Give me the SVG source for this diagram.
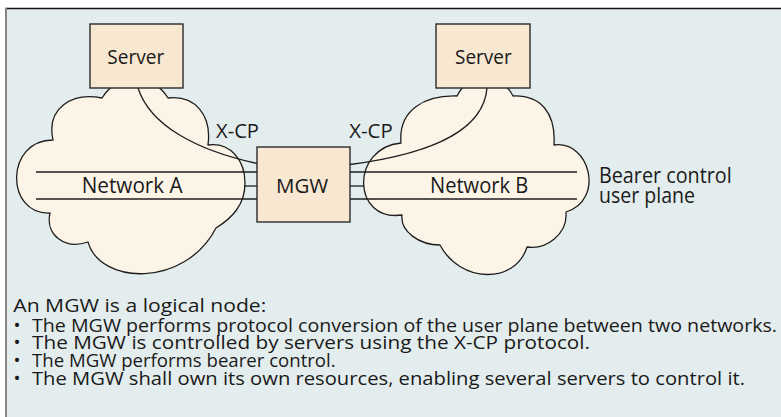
<svg xmlns="http://www.w3.org/2000/svg" width="781" height="417" viewBox="0 0 781 417">
  <style>
    .panel { fill: #e4eded; }
    .cloud { fill: #fdf4e8; stroke: #1e1e1e; stroke-width: 1.3; stroke-linejoin: round; }
    .box { fill: #f8e7d1; stroke: #2a2a2a; stroke-width: 1.4; }
    .link { fill: none; stroke: #1e1e1e; stroke-width: 1.3; }
    text { font-family: "Open Sans", "Liberation Sans", sans-serif; fill: #1a1a1a; }
    .lbl { font-size: 20px; }
    .net { font-size: 21.5px; }
    .body { font-size: 18.6px; }
  </style>

  <!-- panel background with top rule and left edge -->
  <rect class="panel" x="6" y="8" width="775" height="409"/>
  <line x1="5" y1="8.5" x2="781" y2="8.5" stroke="#111" stroke-width="1.5"/>
  <line x1="6" y1="8" x2="6" y2="417" stroke="#858585" stroke-width="2"/>

  <!-- Network A cloud -->
  <g id="network-a">
    <path class="cloud" d="M102,98 C118,72 152,72 168,98 C195,95 212,115 208,145 C230,142 245,160 245,183 C245,205 232,218 216,228 C185,288 100,285 88,242 C65,250 45,235 50,213 C5,215 5,140 53,140 C46,108 72,92 102,98 Z"/>
    <text class="net" x="81.7" y="192.7" textLength="101" lengthAdjust="spacingAndGlyphs">Network A</text>
  </g>

  <!-- Network B cloud -->
  <g id="network-b">
    <path class="cloud" d="M457,96 C470,70 500,70 513,96 C540,95 556,112 554,145 C590,140 605,200 566,212 C568,235 545,250 527,247 C515,285 460,283 440,245 C420,245 400,232 402,215 C352,222 350,148 401,143 C398,110 425,95 457,96 Z"/>
    <text class="net" x="430" y="192.7" textLength="98.3" lengthAdjust="spacingAndGlyphs">Network B</text>
  </g>

  <!-- bearer lines and X-CP control links -->
  <g id="connectors">
    <line class="link" x1="36" y1="172" x2="577" y2="172"/>
    <line class="link" x1="36" y1="199" x2="577" y2="199"/>
    <line class="link" x1="244" y1="186" x2="257" y2="186"/>
    <line class="link" x1="350" y1="186" x2="364" y2="186"/>
    <path class="link" d="M138,88 C150,125 195,150 257,163.5"/>
    <path class="link" d="M487,88 C484,125 445,152 350,164.5"/>
  </g>

  <g id="server-a">
    <rect class="box" x="90" y="24" width="93" height="64"/>
    <text class="lbl" x="107.3" y="64" textLength="57" lengthAdjust="spacingAndGlyphs">Server</text>
  </g>

  <g id="server-b">
    <rect class="box" x="436" y="24" width="94" height="64"/>
    <text class="lbl" x="455" y="64" textLength="56.7" lengthAdjust="spacingAndGlyphs">Server</text>
  </g>

  <g id="mgw">
    <rect class="box" x="257" y="147" width="93" height="75"/>
    <text class="lbl" x="276" y="192.7" textLength="52.3" lengthAdjust="spacingAndGlyphs">MGW</text>
  </g>

  <g id="xcp-labels">
    <text class="lbl" x="216" y="138.3" textLength="43" lengthAdjust="spacingAndGlyphs">X-CP</text>
    <text class="lbl" x="349.3" y="138.3" textLength="43.4" lengthAdjust="spacingAndGlyphs">X-CP</text>
  </g>

  <g id="plane-label">
    <text class="net" x="599" y="182.7" textLength="132.7" lengthAdjust="spacingAndGlyphs">Bearer control</text>
    <text class="net" x="599" y="202.5" textLength="96" lengthAdjust="spacingAndGlyphs">user plane</text>
  </g>

  <!-- description text -->
  <g id="description">
    <text class="body" x="13.3" y="312.3" textLength="253" lengthAdjust="spacingAndGlyphs">An MGW is a logical node:</text>
    <text class="body" x="13.5" y="331.5">•</text>
    <text class="body" x="32" y="331.5" textLength="745" lengthAdjust="spacingAndGlyphs">The MGW performs protocol conversion of the user plane between two networks.</text>
    <text class="body" x="13.5" y="349">•</text>
    <text class="body" x="32" y="349" textLength="558" lengthAdjust="spacingAndGlyphs">The MGW is controlled by servers using the X-CP protocol.</text>
    <text class="body" x="13.5" y="366.7">•</text>
    <text class="body" x="32" y="366.7">The MGW performs bearer control.</text>
    <text class="body" x="13.5" y="384.5">•</text>
    <text class="body" x="32" y="384.5" textLength="713" lengthAdjust="spacingAndGlyphs">The MGW shall own its own resources, enabling several servers to control it.</text>
  </g>
</svg>
